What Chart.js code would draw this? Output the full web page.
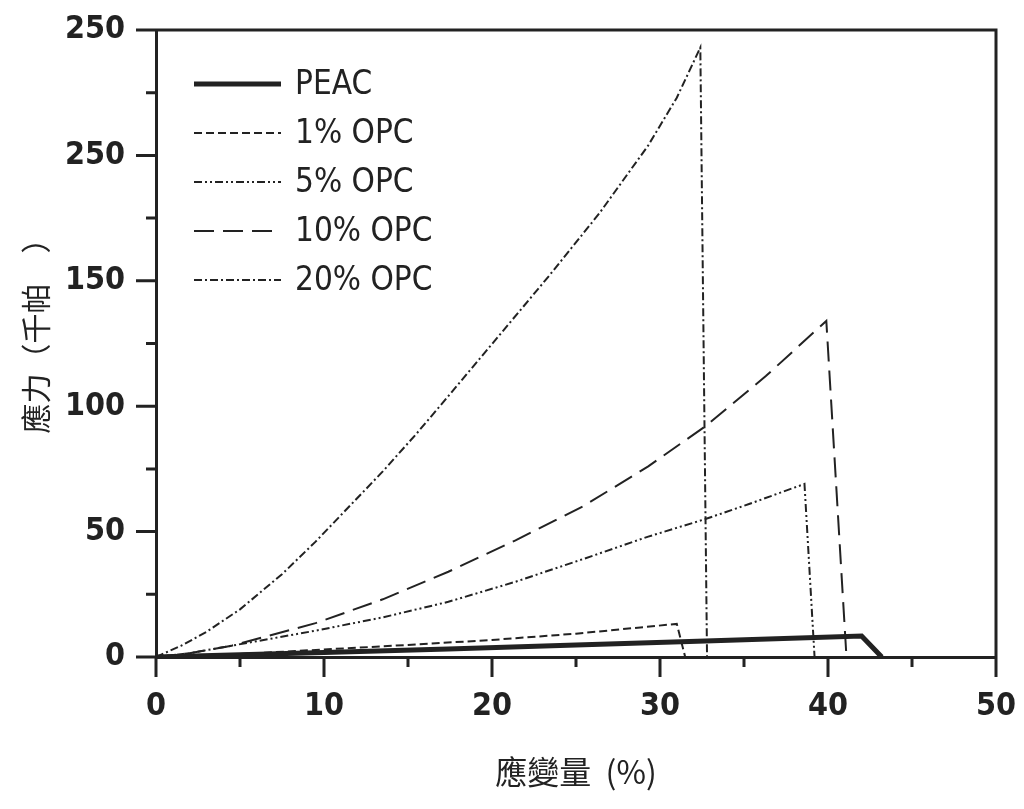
<!DOCTYPE html>
<html>
<head>
<meta charset="UTF-8">
<title>應力-應變曲線</title>
<script src="https://cdn.jsdelivr.net/npm/chart.js"></script>
<style>
body{margin:0;background:#fff;}
#wrap{width:1024px;height:809px;}
</style>
</head>
<body>
<div id="wrap"><canvas id="chart" width="1024" height="809"></canvas></div>
<script>
// values: strain (%) -> stress (kPa)
const peacX = [0, 10, 17.4, 25, 32.7, 42, 43.2];
const peacY = [0, 1.8, 3.2, 4.8, 6.4, 8.4, 0];

const opc1X = [0, 5, 10, 15, 20, 25, 31, 31.5];
const opc1Y = [0, 1.2, 3, 4.8, 6.8, 9.3, 13.2, 0];

const opc5X = [0, 2, 4.5, 9.5, 13.5, 17.4, 21.4, 25.4, 29.3, 32.7, 35.3, 38.6, 39.2];
const opc5Y = [0, 1.5, 4.5, 10.5, 15.8, 22, 30, 39, 48, 55, 61, 69, 0];

const opc10X = [0, 2, 4.5, 9.5, 13.5, 17.4, 21.4, 25.4, 29.3, 32.7, 36.3, 39.9, 41.1];
const opc10Y = [0, 1.5, 4.5, 13.5, 23, 34, 46.5, 60, 76, 92, 112, 134, 0];

const opc20X = [0, 1.5, 3, 5, 7.5, 9.5, 11.5, 13.5, 15.5, 17.4, 20.4, 23.4, 26.4, 29.3, 31, 32.4, 32.8];
const opc20Y = [0, 4.5, 10, 19, 33, 46, 60, 74, 89, 104, 128, 152, 177, 204, 223, 243, 0];

const seriesNames = ["PEAC", "1% OPC", "5% OPC", "10% OPC", "20% OPC"];

const yTickValues = [0, 50, 100, 150, 200, 250];
const yTickLabels = ["0", "50", "100", "150", "250", "250"];

const xTitle = "應變量  (%)";
const yTitle = "　應力（千帕　）";

function pts(xs, ys){
  return xs.map((v,i)=>({x:v, y:ys[i]}));
}

const ink = "#222";
const narrow = '"Liberation Sans Narrow","DejaVu Sans Condensed","Liberation Sans",sans-serif';
const cjk = '"Noto Sans CJK TC","Noto Sans CJK SC",sans-serif';

function line(label, data, width, dash){
  return {label:label, data:data, showLine:true, borderColor:ink, borderWidth:width,
    borderDash:dash, pointRadius:0, fill:false, tension:0};
}

// ticks and frame
const axisTicks = {
  id:'axisTicks',
  afterDraw(chart){
    const {ctx, chartArea:a, scales:{x, y}} = chart;
    ctx.save();
    ctx.strokeStyle = ink;
    ctx.lineWidth = 3;
    ctx.beginPath();
    ctx.moveTo(a.left, a.top);
    ctx.lineTo(a.right, a.top);
    ctx.lineTo(a.right, a.bottom);
    for(let v=0; v<=50; v+=5){
      const px = x.getPixelForValue(v);
      ctx.moveTo(px, a.bottom);
      ctx.lineTo(px, a.bottom + (v%10===0 ? 20 : 10));
    }
    for(let v=0; v<=250; v+=25){
      const py = y.getPixelForValue(v);
      ctx.moveTo(a.left, py);
      ctx.lineTo(a.left - (v%50===0 ? 20 : 10), py);
    }
    ctx.stroke();
    ctx.restore();
  }
};

// legend inside the plot, top left
const legendBox = {
  id:'legendBox',
  afterDraw(chart){
    const {ctx, chartArea:a} = chart;
    chart.data.datasets.forEach((ds,i)=>{
      const yy = a.top + 54 + i*49;
      const x0 = a.left + 38;
      ctx.save();
      ctx.strokeStyle = ds.borderColor;
      ctx.lineWidth = ds.borderWidth;
      ctx.setLineDash(ds.borderDash || []);
      ctx.beginPath();
      ctx.moveTo(x0, yy);
      ctx.lineTo(x0 + 87, yy);
      ctx.stroke();
      ctx.setLineDash([]);
      ctx.fillStyle = ink;
      ctx.font = '33px ' + narrow;
      ctx.textBaseline = 'middle';
      ctx.fillText(ds.label, x0 + 101, yy + 1);
      ctx.restore();
    });
  }
};

new Chart(document.getElementById("chart"), {
  type:'scatter',
  data:{
    datasets:[
      line(seriesNames[0], pts(peacX, peacY), 5, []),
      line(seriesNames[1], pts(opc1X, opc1Y), 2, [8,4]),
      line(seriesNames[2], pts(opc5X, opc5Y), 2, [8,3,2,3,2,3]),
      line(seriesNames[3], pts(opc10X, opc10Y), 2, [20,9]),
      line(seriesNames[4], pts(opc20X, opc20Y), 2, [8,3,2,3])
    ]
  },
  options:{
    responsive:false,
    animation:false,
    layout:{padding:{top:30, right:28, left:0, bottom:0}},
    plugins:{legend:{display:false}, tooltip:{enabled:false}},
    scales:{
      x:{
        type:'linear', min:0, max:50,
        grid:{display:false, drawTicks:false},
        border:{display:true, color:ink, width:3},
        ticks:{stepSize:10, padding:30, color:ink, font:{family:narrow, weight:'bold', size:32}},
        title:{display:true, text:xTitle, color:ink, padding:{top:0, bottom:18}, font:{family:cjk, size:32}},
        afterFit(s){ s.height = 152; s.paddingLeft = 0; s.paddingRight = 0; }
      },
      y:{
        type:'linear', min:0, max:250,
        grid:{display:false, drawTicks:false},
        border:{display:true, color:ink, width:3},
        ticks:{
          stepSize:50, padding:31, color:ink,
          font:{family:narrow, weight:'bold', size:32},
          callback:(v)=>{ const k = yTickValues.indexOf(v); return k<0 ? '' : yTickLabels[k]; }
        },
        title:{display:true, text:yTitle, color:ink, padding:{top:18, bottom:0}, font:{family:cjk, size:30}},
        afterFit(s){ s.width = 156; s.paddingTop = 0; s.paddingBottom = 0; }
      }
    }
  },
  plugins:[axisTicks, legendBox]
});
</script>
</body>
</html>
